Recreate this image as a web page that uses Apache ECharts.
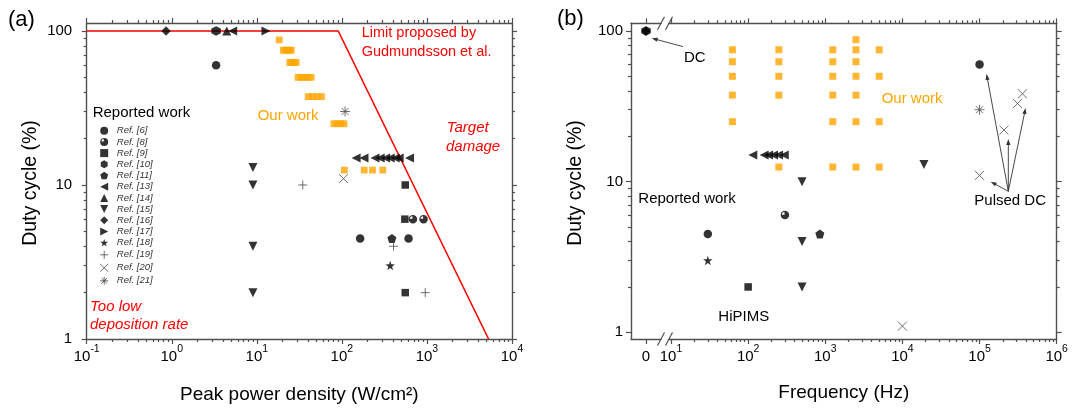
<!DOCTYPE html>
<html><head><meta charset="utf-8">
<script src="https://cdn.jsdelivr.net/npm/echarts@6/dist/echarts.min.js"></script>
<style>html,body{margin:0;padding:0;background:#fff}#c{width:1075px;height:410px}</style>
</head><body><div id="c"></div>
<script>
// ---------------- data ----------------
const xTicksA = [0.1, 1, 10, 100, 1000, 10000];
const xTicksB = [10, 100, 1000, 10000, 100000, 1000000];
const xTicksB0 = [0];
const yTicks = [1, 10, 100];

// Panel (a): peak power density (W/cm2) vs duty cycle (%)
const limitLine = [[0.1, 100], [90.6, 100], [5300, 1]];
const ourWorkA = [
  [18.3, 87.5],
  [20.5, 75], [21.7, 75], [23, 75], [24.2, 75], [25.4, 75],
  [24.4, 62.5], [25.8, 62.5], [27.4, 62.5], [29, 62.5],
  [30.6, 50], [33.4, 50], [36.5, 50], [39.8, 50], [43.5, 50],
  [40.2, 37.5], [45, 37.5], [51, 37.5], [57.5, 37.5],
  [80.5, 25], [88, 25], [97, 25], [106, 25],
  [107, 12.5], [183, 12.5], [229, 12.5], [303, 12.5]
];
const ref6A = [[3.32, 60], [164, 4.5], [608, 4.5]];
const ref8A = [[684, 6], [912, 6]];
const ref9A = [[556, 10], [550, 6], [556, 2]];
const ref10A = [[3.32, 100]];
const ref11A = [[387, 4.5]];
const ref13A = [[5.2, 100], [147, 15], [182, 15], [245, 15], [282, 15], [326, 15], [370, 15], [424, 15], [472, 15], [624, 15]];
const ref14A = [[4.43, 100]];
const ref15A = [[9, 13], [9, 10], [9, 4], [9, 2]];
const ref16A = [[0.857, 100]];
const ref17A = [[12.8, 100]];
const ref18A = [[370, 3]];
const ref19A = [[34.7, 10], [405, 4], [955, 2]];
const ref20A = [[104.5, 11]];
const ref21A = [[109, 30]];

// Panel (b): frequency (Hz) vs duty cycle (%)
const ourWorkB = [
  [62.5, 75], [62.5, 62.5], [62.5, 50], [62.5, 37.5], [62.5, 25],
  [250, 75], [250, 62.5], [250, 50], [250, 37.5], [250, 12.5],
  [1250, 75], [1250, 62.5], [1250, 50], [1250, 37.5], [1250, 25], [1250, 12.5],
  [2500, 87.5], [2500, 75], [2500, 62.5], [2500, 50], [2500, 37.5], [2500, 25], [2500, 12.5],
  [5000, 75], [5000, 50], [5000, 25], [5000, 12.5]
];
const ref6B = [[30, 4.5], [100000, 60]];
const ref8B = [[300, 6]];
const ref9B = [[100, 2]];
const ref11B = [[850, 4.5]];
const ref13B = [[115, 15], [161, 15], [184, 15], [213, 15], [248, 15], [294, 15]];
const ref15B = [[500, 10], [500, 4], [500, 2], [19000, 13]];
const ref18B = [[30, 3]];
const ref20B = [[100000, 11], [207000, 22], [310000, 33], [360000, 38.3], [10000, 1.1]];
const ref21B = [[100000, 30]];
const ref10DC = [[0, 100]];
const ref16DC = [[0, 100]];

// annotation arrows (data coordinates of panel b)
const dcArrowFrom = [14.3, 78.7];   // in log part
const dcArrowTo = [0.38, 89.5];     // in "0" part
const pulsedTail = [236000, 8.63];
const pulsedHeads = [[139000, 10.0], [123000, 51.9], [236000, 19.2], [395000, 30.8]];

// ---------------- style ----------------
const FONT = '"Liberation Sans", Arial, Helvetica, sans-serif';
const AX = '#4f4f4f';
const RED = '#ff0000';
const ORANGE = '#ffa500';
const GRAY = '#4a4a4a';

function minorTicks(lo, hi) {
  const out = [];
  for (let e = -2; e <= 7; e++) for (let m = 2; m <= 9; m++) {
    const v = m * Math.pow(10, e);
    if (v > lo && v < hi) out.push(v);
  }
  return out;
}
const rich = {
  b: {fontSize: 15, fontFamily: FONT, color: '#000', lineHeight: 20, verticalAlign: 'bottom'},
  s: {fontSize: 10.5, fontFamily: FONT, color: '#000', verticalAlign: 'top'},
  z: {fontSize: 15, fontFamily: FONT, color: '#000', lineHeight: 20, verticalAlign: 'bottom'}
};
function powLabel(v) {
  const e = Math.round(Math.log10(v));
  return '{b|10}{s|' + e + '}';
}

const SYM = {
  half: 'path://M0,10A10,10 0 1,1 20,10A10,10 0 1,1 0,10Z M9,9L9,3A6,6 0 0,0 3,9Z',
  hex: 'path://M10,0L18.66,5L18.66,15L10,20L1.34,15L1.34,5Z',
  pent: 'path://M10,0.5L19.51,7.41L15.88,18.59L4.12,18.59L0.49,7.41Z',
  left: 'path://M0,10L20,0L20,20Z',
  down: 'path://M0,0L20,0L10,20Z',
  right: 'path://M0,0L20,10L0,20Z',
  star: 'path://M10,0L12.3,6.8L19.51,6.91L13.75,11.25L15.88,18.09L10,14L4.12,18.09L6.25,11.25L0.49,6.91L7.7,6.8Z',
  plus: 'path://M10,0L10,20M0,10L20,10',
  x: 'path://M0,0L20,20M20,0L0,20',
  ast: 'path://M10,0L10,20M0,10L20,10M3,3L17,17M17,3L3,17'
};

const refs = [
  {name: 'Ref. [6]', symbol: 'circle', size: 8.5, A: ref6A, B: ref6B},
  {name: 'Ref. [8]', symbol: SYM.half, size: 8.5, A: ref8A, B: ref8B},
  {name: 'Ref. [9]', symbol: 'rect', size: 7.5, A: ref9A, B: ref9B},
  {name: 'Ref. [10]', symbol: SYM.hex, size: 9.5, A: ref10A, B: [], DC: ref10DC},
  {name: 'Ref. [11]', symbol: SYM.pent, size: 9, A: ref11A, B: ref11B},
  {name: 'Ref. [13]', symbol: SYM.left, size: 9, A: ref13A, B: ref13B},
  {name: 'Ref. [14]', symbol: 'triangle', size: 9, A: ref14A, B: []},
  {name: 'Ref. [15]', symbol: SYM.down, size: 9, A: ref15A, B: ref15B},
  {name: 'Ref. [16]', symbol: 'diamond', size: 9.5, A: ref16A, B: [], DC: ref16DC},
  {name: 'Ref. [17]', symbol: SYM.right, size: 9, A: ref17A, B: []},
  {name: 'Ref. [18]', symbol: SYM.star, size: 9.5, A: ref18A, B: ref18B},
  {name: 'Ref. [19]', symbol: SYM.plus, size: 9, stroke: true, A: ref19A, B: []},
  {name: 'Ref. [20]', symbol: SYM.x, size: 9, stroke: true, A: ref20A, B: ref20B},
  {name: 'Ref. [21]', symbol: SYM.ast, size: 10, stroke: true, A: ref21A, B: ref21B}
];

// ---------------- axes ----------------
const line = {color: AX, width: 1.4};
const tickLine = {color: AX, width: 1.2};
function axis(o) {
  const base = {
    splitLine: {show: false}, minorTick: {show: false}, minorSplitLine: {show: false},
    axisLine: {show: true, onZero: false, lineStyle: line},
    axisTick: {show: true, inside: false, length: 5, lineStyle: tickLine},
    axisLabel: {show: false}
  };
  const r = Object.assign({}, base, o);
  r.axisLine = Object.assign({}, base.axisLine, o.axisLine || {});
  r.axisTick = Object.assign({}, base.axisTick, o.axisTick || {});
  r.axisLabel = Object.assign({}, base.axisLabel, o.axisLabel || {});
  return r;
}
const A_X = {type: 'log', logBase: 10, min: 0.09999, max: 10001};
const A_Y = {type: 'log', logBase: 10, min: 0.9999, max: 112.7};
const B_X = {type: 'log', logBase: 10, min: 9.42, max: 1000010};
const B_Y = {type: 'log', logBase: 10, min: 0.903, max: 112.4};
const B0_X = {type: 'value', min: -1, max: 1};

const minorAX = minorTicks(0.1, 10000);
const minorY = minorTicks(1, 112);
const minorBX = minorTicks(9.42, 1000000);

const xAxis = [
  axis(Object.assign({gridIndex: 0, position: 'bottom', axisTick: {customValues: xTicksA},
    axisLabel: {show: true, customValues: xTicksA, formatter: powLabel, margin: 5, rich: rich}}, A_X)),
  axis(Object.assign({gridIndex: 0, position: 'bottom', axisLine: {show: false}, axisTick: {customValues: minorAX, length: 3}}, A_X)),
  axis(Object.assign({gridIndex: 0, position: 'top', axisTick: {customValues: xTicksA}}, A_X)),
  axis(Object.assign({gridIndex: 0, position: 'top', axisLine: {show: false}, axisTick: {customValues: minorAX, length: 3}}, A_X)),
  axis(Object.assign({gridIndex: 1, position: 'bottom', axisTick: {customValues: xTicksB0},
    axisLabel: {show: true, customValues: xTicksB0, formatter: () => '{z|0}', margin: 5, rich: rich}}, B0_X)),
  axis(Object.assign({gridIndex: 1, position: 'top', axisTick: {customValues: xTicksB0}}, B0_X)),
  axis(Object.assign({gridIndex: 2, position: 'bottom', axisTick: {customValues: xTicksB},
    axisLabel: {show: true, customValues: xTicksB, formatter: powLabel, margin: 5, rich: rich}}, B_X)),
  axis(Object.assign({gridIndex: 2, position: 'bottom', axisLine: {show: false}, axisTick: {customValues: minorBX, length: 3}}, B_X)),
  axis(Object.assign({gridIndex: 2, position: 'top', axisTick: {customValues: xTicksB}}, B_X)),
  axis(Object.assign({gridIndex: 2, position: 'top', axisLine: {show: false}, axisTick: {customValues: minorBX, length: 3}}, B_X))
];
const yLabel = {show: true, customValues: yTicks, fontSize: 15, fontFamily: FONT, color: '#000'};
const yAxis = [
  axis(Object.assign({gridIndex: 0, position: 'left', axisTick: {customValues: yTicks},
    axisLabel: Object.assign({margin: 14.5}, yLabel)}, A_Y)),
  axis(Object.assign({gridIndex: 0, position: 'left', axisLine: {show: false}, axisTick: {customValues: minorY, length: 3}}, A_Y)),
  axis(Object.assign({gridIndex: 0, position: 'right', axisTick: {customValues: yTicks}}, A_Y)),
  axis(Object.assign({gridIndex: 0, position: 'right', axisLine: {show: false}, axisTick: {customValues: minorY, length: 3}}, A_Y)),
  axis(Object.assign({gridIndex: 1, position: 'left', axisTick: {customValues: yTicks},
    axisLabel: Object.assign({margin: 8}, yLabel)}, B_Y)),
  axis(Object.assign({gridIndex: 1, position: 'left', axisLine: {show: false}, axisTick: {customValues: minorY, length: 3}}, B_Y)),
  axis(Object.assign({gridIndex: 2, position: 'right', axisTick: {customValues: yTicks}}, B_Y)),
  axis(Object.assign({gridIndex: 2, position: 'right', axisLine: {show: false}, axisTick: {customValues: minorY, length: 3}}, B_Y))
];

// ---------------- series ----------------
const series = [];
series.push({type: 'line', name: 'limit', xAxisIndex: 0, yAxisIndex: 0, data: limitLine, symbol: 'none',
  lineStyle: {color: RED, width: 1.6}, z: 1, silent: true});
series.push({type: 'scatter', name: 'Our work A', xAxisIndex: 0, yAxisIndex: 0, data: ourWorkA,
  symbol: 'rect', symbolSize: 6.8, itemStyle: {color: ORANGE}, z: 2});
series.push({type: 'scatter', name: 'Our work B', xAxisIndex: 6, yAxisIndex: 6, data: ourWorkB,
  symbol: 'rect', symbolSize: 7, itemStyle: {color: ORANGE}, z: 2});
function refStyle(r) {
  return r.stroke ? {color: 'none', borderColor: GRAY, borderWidth: 1} : {color: '#000', borderWidth: 0};
}
refs.forEach(r => {
  const common = {type: 'scatter', name: r.name, symbol: r.symbol, symbolSize: r.size, itemStyle: refStyle(r), z: 3};
  series.push(Object.assign({}, common, {xAxisIndex: 0, yAxisIndex: 0, data: r.A}));
  if (r.B.length) series.push(Object.assign({}, common, {xAxisIndex: 6, yAxisIndex: 6, data: r.B}));
  if (r.DC) series.push(Object.assign({}, common, {xAxisIndex: 4, yAxisIndex: 4, data: r.DC}));
});

const option = {
  animation: false,
  backgroundColor: '#fff',
  grid: [
    {left: 86.7, top: 23, width: 425.3, height: 316, outerBoundsMode: 'none', containLabel: false},
    {left: 631, top: 23.3, width: 30, height: 315.7, outerBoundsMode: 'none', containLabel: false},
    {left: 669, top: 23.3, width: 387.7, height: 315.7, outerBoundsMode: 'none', containLabel: false}
  ],
  legend: {
    data: refs.map(r => r.stroke ? {name: r.name, itemStyle: {color: 'none', borderColor: GRAY, borderWidth: 1}} : {name: r.name}),
    orient: 'vertical', left: 97.7, top: 125.1, padding: 0,
    itemWidth: 8, itemHeight: 8, itemGap: 0, selectedMode: false,
    textStyle: {fontSize: 9.5, fontStyle: 'italic', fontFamily: FONT, color: '#333', lineHeight: 11.2, padding: [0, 0, 0, 3.6]}
  },
  xAxis: xAxis,
  yAxis: yAxis,
  series: series
};

const chart = echarts.init(document.getElementById('c'), null, {renderer: 'canvas'});
chart.setOption(option);

// ---------------- annotations ----------------
function txt(text, x, y, o) {
  o = o || {};
  return {type: 'text', x: x, y: y, rotation: o.rot || 0, z: 10, silent: true,
    style: {text: text, x: 0, y: 0, fill: o.color || '#000',
      font: (o.italic ? 'italic ' : '') + (o.size || 15) + 'px ' + FONT,
      align: o.align || 'left', verticalAlign: 'middle'}};
}
function arrow(p0, p1) {
  const dx = p1[0] - p0[0], dy = p1[1] - p0[1];
  const L = Math.sqrt(dx * dx + dy * dy);
  const ux = dx / L, uy = dy / L, nx = -uy, ny = ux;
  const hl = 6, hw = 2.1;
  const bx = p1[0] - ux * hl, by = p1[1] - uy * hl;
  return [
    {type: 'line', z: 10, silent: true, shape: {x1: p0[0], y1: p0[1], x2: bx + ux, y2: by + uy},
      style: {stroke: '#333', lineWidth: 0.9}},
    {type: 'polygon', z: 10, silent: true, shape: {points: [[p1[0], p1[1]], [bx + nx * hw, by + ny * hw], [bx - nx * hw, by - ny * hw]]},
      style: {fill: '#333'}}
  ];
}
const toB = pt => chart.convertToPixel({xAxisIndex: 6, yAxisIndex: 6}, pt);
const toB0 = pt => chart.convertToPixel({xAxisIndex: 4, yAxisIndex: 4}, pt);

const g = [];
g.push(txt('(a)', 8, 20, {size: 22}));
g.push(txt('(b)', 557, 19, {size: 22}));
g.push(txt('Limit proposed by', 361.7, 33, {color: RED, size: 14.5}));
g.push(txt('Gudmundsson et al.', 361.7, 52, {color: RED, size: 14.5}));
g.push(txt('Target', 446.7, 128, {color: RED, italic: true}));
g.push(txt('damage', 446, 147, {color: RED, italic: true}));
g.push(txt('Our work', 257.7, 115.7, {color: ORANGE}));
g.push(txt('Reported work', 92.7, 113.3));
g.push(txt('Too low', 90, 306.7, {color: RED, italic: true}));
g.push(txt('deposition rate', 90, 325, {color: RED, italic: true}));
g.push(txt('DC', 684, 58));
g.push(txt('Our work', 881.7, 99.3, {color: ORANGE}));
g.push(txt('Reported work', 638.3, 199.3));
g.push(txt('HiPIMS', 718.3, 317.3));
g.push(txt('Pulsed DC', 974.3, 200.5));
g.push(txt('Peak power density (W/cm²)', 299.3, 395, {size: 19, align: 'center'}));
g.push(txt('Frequency (Hz)', 843.8, 393, {size: 19, align: 'center'}));
g.push(txt('Duty cycle (%)', 31, 183, {size: 19.5, align: 'center', rot: Math.PI / 2}));
g.push(txt('Duty cycle (%)', 576, 183, {size: 19.5, align: 'center', rot: Math.PI / 2}));

// axis break marks
[[661, 23.3], [669, 23.3], [661, 339], [669, 339]].forEach(p => {
  g.push({type: 'line', z: 10, silent: true, shape: {x1: p[0] - 3.5, y1: p[1] + 6.5, x2: p[0] + 3.5, y2: p[1] - 6.5},
    style: {stroke: AX, lineWidth: 1.2}});
});

arrow(toB(dcArrowFrom), toB0(dcArrowTo)).forEach(e => g.push(e));
const tail = toB(pulsedTail);
pulsedHeads.forEach(h => arrow(tail, toB(h)).forEach(e => g.push(e)));

chart.setOption({graphic: {elements: g}});
</script>
</body></html>
